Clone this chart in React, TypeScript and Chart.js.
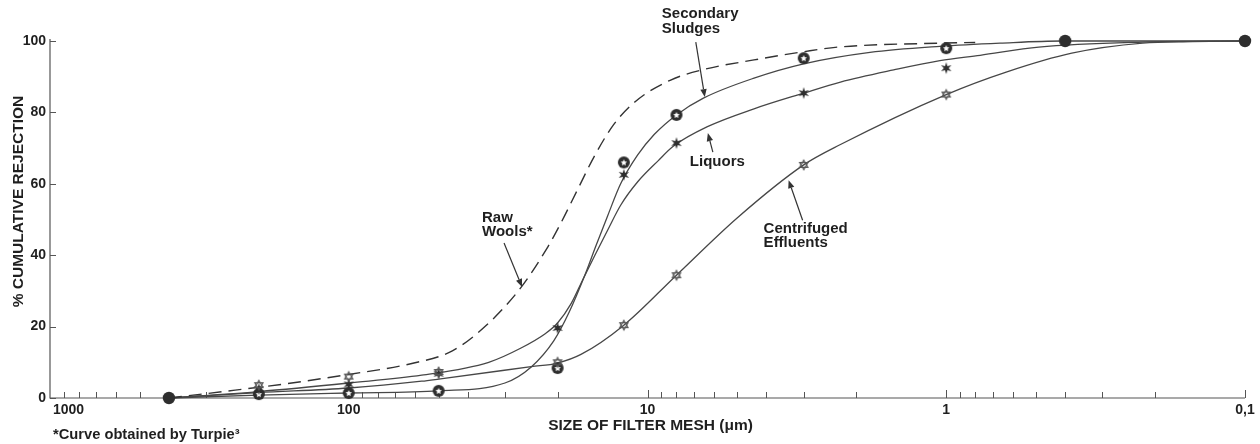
import React, { useEffect, useRef } from "react";
import { Chart, registerables } from "chart.js";

Chart.register(...registerables);

// Fitted curves: filter mesh size (µm) against % cumulative rejection
const RAW_WOOLS_SIZE = [400, 240, 165, 100, 62, 45, 35, 26.5, 21.5, 19.5, 17, 15, 13, 11, 8.4, 6.5, 4.4, 3, 2.3, 1.05, 0.8];
const RAW_WOOLS_PCT = [0, 2.2, 3.9, 6.6, 9.6, 13.2, 20, 31, 42.5, 49, 59, 68, 76.5, 83, 89, 92, 94.7, 97, 98.3, 99.4, 99.6];

const SLUDGE_SIZE = [400, 200, 100, 50, 30, 24.5, 20.6, 18.3, 16.1, 14.9, 13.6, 12.3, 10.8, 9.5, 8, 6.5, 4.4, 3, 1.8, 1.05, 0.66, 0.41, 0.1];
const SLUDGE_PCT = [0, 0.8, 1.4, 2, 4.2, 8.7, 16, 24, 35, 42.5, 51, 60, 68, 73.8, 79.3, 84, 89.6, 93.6, 96.8, 98.5, 99.4, 100, 100];

const LIQUOR_SIZE = [400, 200, 100, 57, 34, 26.5, 22, 20, 18, 16.5, 15, 13.6, 12.3, 10.8, 9.2, 8.2, 6.3, 4.4, 3, 2.26, 1.5, 1.05, 0.77, 0.49, 0.22, 0.1];
const LIQUOR_PCT = [0, 1.8, 4.2, 6.4, 10, 14, 18, 21, 26.5, 33, 40, 47, 54, 60.5, 66.5, 70.5, 76, 81, 85.4, 88.5, 91.9, 94.5, 96, 98.3, 99.7, 100];

const EFFLUENT_SIZE = [400, 200, 100, 57, 50, 24.5, 20, 16.7, 12, 8, 5, 3, 2.26, 1, 0.63, 0.38, 0.22, 0.15, 0.1];
const EFFLUENT_PCT = [0, 1.5, 2.8, 4.7, 5.3, 8.8, 9.8, 12.2, 20.4, 34.4, 50.5, 65.3, 71, 85, 91.3, 96.6, 99.4, 99.8, 100];

// Measured points
const SLUDGE_PT_SIZE = [200, 100, 50, 20, 12, 8, 3, 1];
const SLUDGE_PT_PCT = [1.1, 1.4, 2, 8.4, 66, 79.3, 95.2, 98];

const LIQUOR_PT_SIZE = [200, 100, 50, 20, 12, 8, 3, 1];
const LIQUOR_PT_PCT = [2.5, 3.8, 6.8, 19.6, 62.5, 71.4, 85.4, 92.4];

const EFFLUENT_PT_SIZE = [200, 100, 50, 20, 12, 8, 3, 1];
const EFFLUENT_PT_PCT = [3.6, 6, 7.3, 10, 20.4, 34.4, 65.3, 85];

const COMMON_PT_SIZE = [400, 0.4, 0.1];
const COMMON_PT_PCT = [0, 100, 100];

// Axes
const Y_TICKS = [0, 20, 40, 60, 80, 100];
const X_TICK_VALUES = [1000, 100, 10, 1, 0.1];
const X_TICK_LABELS = ["1000", "100", "10", "1", "0,1"];
const DECADE_STARTS = [100, 10, 1, 0.1];

const Y_TITLE = "% CUMULATIVE REJECTION";
const X_TITLE = "SIZE OF FILTER MESH (\u03bcm)";
const FOOTNOTE = "*Curve obtained by Turpie\u00b3";

// Curve callouts: arrow tip sits on a curve (size, %), tail and text are pixel offsets from it
const CALLOUTS = [
  { lines: ["Secondary", "Sludges"], tip: [6.43, 84.3], tail: [-9, -55], text: [-43, -83], gap: 15 },
  { lines: ["Liquors"], tip: [6.28, 74.2], tail: [5, 19], text: [-18, 29], gap: 14 },
  { lines: ["Centrifuged", "Effluents"], tip: [3.37, 61], tail: [14, 40], text: [-25, 49], gap: 14 },
  { lines: ["Raw", "Wools*"], tip: [26.3, 31.1], tail: [-18, -44], text: [-40, -69], gap: 14 },
];

const INK = "#1f1f1f";
const CURVE = "#474747";
const MARK = "#2e2e2e";
const AXIS = "#555";
const FONT = "'Liberation Sans', Arial, Helvetica, sans-serif";

function pairs(xs: number[], ys: number[]) {
  return xs.map((x, i) => ({ x, y: ys[i] }));
}

function starPath(ctx: CanvasRenderingContext2D, cx: number, cy: number, n: number, ro: number, ri: number) {
  ctx.beginPath();
  for (let i = 0; i < n * 2; i++) {
    const r = i % 2 === 0 ? ro : ri;
    const a = -Math.PI / 2 + (i * Math.PI) / n;
    const px = cx + r * Math.cos(a);
    const py = cy + r * Math.sin(a);
    if (i === 0) ctx.moveTo(px, py);
    else ctx.lineTo(px, py);
  }
  ctx.closePath();
}

function makeMarker(kind: string): HTMLCanvasElement {
  const size = 14;
  const c = document.createElement("canvas");
  c.width = size;
  c.height = size;
  const g = c.getContext("2d")!;
  const m = size / 2;
  if (kind === "dot") {
    g.fillStyle = MARK;
    g.beginPath();
    g.arc(m, m, 6.2, 0, Math.PI * 2);
    g.fill();
  } else if (kind === "ring") {
    g.fillStyle = MARK;
    g.beginPath();
    g.arc(m, m, 6, 0, Math.PI * 2);
    g.fill();
    g.fillStyle = "#fff";
    starPath(g, m, m + 0.3, 5, 3.4, 1.6);
    g.fill();
  } else if (kind === "starFilled") {
    g.fillStyle = MARK;
    starPath(g, m, m, 6, 6, 2.4);
    g.fill();
  } else {
    g.strokeStyle = "#555";
    g.lineWidth = 1.1;
    for (const rot of [-Math.PI / 2, Math.PI / 2]) {
      g.beginPath();
      for (let i = 0; i < 3; i++) {
        const a = rot + (i * 2 * Math.PI) / 3;
        const px = m + 4.8 * Math.cos(a);
        const py = m + 4.8 * Math.sin(a);
        if (i === 0) g.moveTo(px, py);
        else g.lineTo(px, py);
      }
      g.closePath();
      g.stroke();
    }
  }
  return c;
}

const decor = {
  id: "decor",
  beforeDatasetsDraw(chart: any) {
    const { ctx, chartArea: a, scales } = chart;
    const x = scales.x;
    const y = scales.y;
    ctx.save();
    ctx.strokeStyle = AXIS;
    ctx.lineWidth = 1.2;
    ctx.beginPath();
    ctx.moveTo(a.left, a.top - 2);
    ctx.lineTo(a.left, a.bottom);
    ctx.lineTo(a.right, a.bottom);
    ctx.stroke();

    ctx.lineWidth = 1;
    ctx.beginPath();
    for (const v of Y_TICKS) {
      const py = Math.round(y.getPixelForValue(v)) + 0.5;
      ctx.moveTo(a.left, py);
      ctx.lineTo(a.left + 6, py);
    }
    for (const s of DECADE_STARTS) {
      for (let k = 1; k <= 9; k++) {
        const px = Math.round(x.getPixelForValue(s * k)) + 0.5;
        const len = k === 1 ? 8 : 6;
        ctx.moveTo(px, a.bottom);
        ctx.lineTo(px, a.bottom - len);
      }
    }
    ctx.stroke();
    ctx.restore();
  },
  afterDatasetsDraw(chart: any) {
    const { ctx, chartArea: a, scales } = chart;
    const x = scales.x;
    const y = scales.y;
    ctx.save();
    ctx.fillStyle = INK;
    ctx.font = `bold 14px ${FONT}`;

    // y tick labels
    ctx.textAlign = "right";
    ctx.textBaseline = "middle";
    for (const v of Y_TICKS) {
      ctx.fillText(String(v), a.left - 4, y.getPixelForValue(v));
    }

    // x tick labels
    X_TICK_VALUES.forEach((v, i) => {
      const px = x.getPixelForValue(v);
      if (i === 0) {
        ctx.textAlign = "left";
        ctx.fillText(X_TICK_LABELS[i], px + 3, a.bottom + 12);
      } else {
        ctx.textAlign = "center";
        ctx.fillText(X_TICK_LABELS[i], px, a.bottom + 12);
      }
    });

    // axis titles and footnote
    ctx.font = `bold 15.5px ${FONT}`;
    ctx.textAlign = "center";
    ctx.fillText(X_TITLE, (a.left + a.right) / 2 + 3, a.bottom + 28);
    ctx.save();
    ctx.translate(19, (a.top + a.bottom) / 2 - 18);
    ctx.rotate(-Math.PI / 2);
    ctx.fillText(Y_TITLE, 0, 0);
    ctx.restore();
    ctx.font = `bold 14.7px ${FONT}`;
    ctx.textAlign = "left";
    ctx.fillText(FOOTNOTE, a.left + 3, a.bottom + 37);

    // callouts
    ctx.font = `bold 15px ${FONT}`;
    for (const c of CALLOUTS) {
      const tx = x.getPixelForValue(c.tip[0]);
      const ty = y.getPixelForValue(c.tip[1]);
      const sx = tx + c.tail[0];
      const sy = ty + c.tail[1];
      ctx.strokeStyle = "#333";
      ctx.lineWidth = 1.2;
      const ang = Math.atan2(ty - sy, tx - sx);
      const hl = 8;
      const hw = 3.2;
      const bx = tx - hl * Math.cos(ang);
      const by = ty - hl * Math.sin(ang);
      ctx.beginPath();
      ctx.moveTo(sx, sy);
      ctx.lineTo(bx, by);
      ctx.stroke();
      ctx.fillStyle = "#333";
      ctx.beginPath();
      ctx.moveTo(tx, ty);
      ctx.lineTo(bx + hw * Math.sin(ang), by - hw * Math.cos(ang));
      ctx.lineTo(bx - hw * Math.sin(ang), by + hw * Math.cos(ang));
      ctx.closePath();
      ctx.fill();

      ctx.fillStyle = INK;
      ctx.textAlign = "left";
      ctx.textBaseline = "middle";
      c.lines.forEach((line, i) => {
        ctx.fillText(line, tx + c.text[0], ty + c.text[1] + i * c.gap);
      });
    }
    ctx.restore();
  },
};

export default function App() {
  const ref = useRef<HTMLCanvasElement>(null);

  useEffect(() => {
    const canvas = ref.current;
    if (!canvas) return;
    const ring = makeMarker("ring");
    const dot = makeMarker("dot");
    const starFilled = makeMarker("starFilled");
    const starOpen = makeMarker("starOpen");

    const curve = (xs: number[], ys: number[], extra: any = {}) => ({
      type: "line" as const,
      data: pairs(xs, ys),
      borderColor: CURVE,
      borderWidth: 1.3,
      pointRadius: 0,
      cubicInterpolationMode: "monotone" as const,
      fill: false,
      clip: false as const,
      order: 2,
      ...extra,
    });
    const points = (xs: number[], ys: number[], style: HTMLCanvasElement) => ({
      type: "line" as const,
      data: pairs(xs, ys),
      showLine: false,
      pointStyle: style,
      pointRadius: 6,
      clip: false as const,
      order: 0,
    });

    const chart = new Chart(canvas, {
      type: "line",
      data: {
        datasets: [
          curve(RAW_WOOLS_SIZE, RAW_WOOLS_PCT, { borderDash: [13, 7], borderWidth: 1.4, borderColor: "#333" }),
          curve(SLUDGE_SIZE, SLUDGE_PCT),
          curve(LIQUOR_SIZE, LIQUOR_PCT),
          curve(EFFLUENT_SIZE, EFFLUENT_PCT),
          points(EFFLUENT_PT_SIZE, EFFLUENT_PT_PCT, starOpen),
          points(LIQUOR_PT_SIZE, LIQUOR_PT_PCT, starFilled),
          points(SLUDGE_PT_SIZE, SLUDGE_PT_PCT, ring),
          points(COMMON_PT_SIZE, COMMON_PT_PCT, dot),
        ] as any,
      },
      options: {
        animation: false,
        responsive: false,
        maintainAspectRatio: false,
        events: [],
        layout: { padding: { left: 50, right: 15, top: 41, bottom: 46 } },
        plugins: { legend: { display: false }, tooltip: { enabled: false } },
        scales: {
          x: { type: "logarithmic", reverse: true, min: 0.1, max: 1000, display: false },
          y: { type: "linear", min: 0, max: 100, display: false },
        },
      },
      plugins: [decor],
    });
    return () => chart.destroy();
  }, []);

  return (
    <div style={{ position: "absolute", left: 0, top: 0, width: 1260, height: 444, background: "#fff" }}>
      <canvas ref={ref} width={1260} height={444} style={{ display: "block" }} />
    </div>
  );
}
